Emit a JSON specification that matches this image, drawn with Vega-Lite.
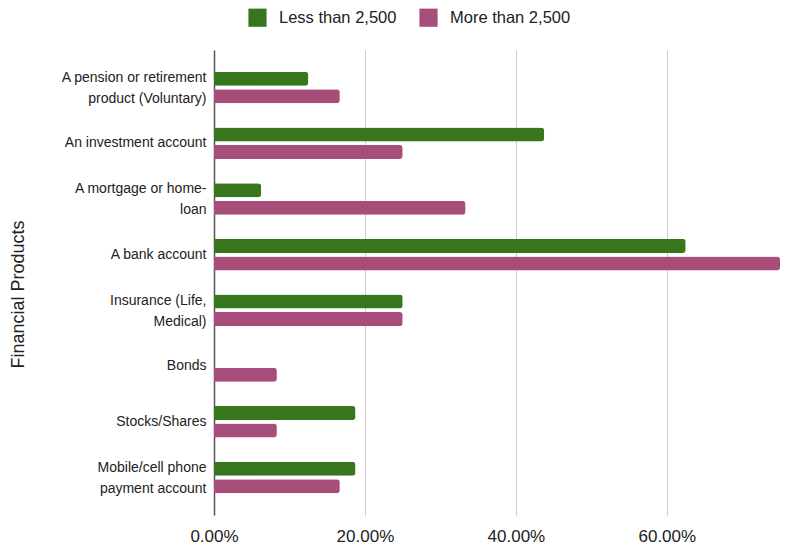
{
  "$schema": "https://vega.github.io/schema/vega-lite/v6.json",
  "autosize": {"type": "none"},
  "padding": {"left": 214, "top": 50, "right": 27, "bottom": 35},
  "width": 566,
  "height": 465,
  "background": "white",
  "config": {
    "font": "Liberation Sans",
    "view": {"stroke": null}
  },
  "data": {
    "values": [
      {"product": "A pension or retirement product (Voluntary)", "group": "Less than 2,500", "value": 0.125},
      {"product": "A pension or retirement product (Voluntary)", "group": "More than 2,500", "value": 0.1667},
      {"product": "An investment account", "group": "Less than 2,500", "value": 0.4375},
      {"product": "An investment account", "group": "More than 2,500", "value": 0.25},
      {"product": "A mortgage or home-loan", "group": "Less than 2,500", "value": 0.0625},
      {"product": "A mortgage or home-loan", "group": "More than 2,500", "value": 0.3333},
      {"product": "A bank account", "group": "Less than 2,500", "value": 0.625},
      {"product": "A bank account", "group": "More than 2,500", "value": 0.75},
      {"product": "Insurance (Life, Medical)", "group": "Less than 2,500", "value": 0.25},
      {"product": "Insurance (Life, Medical)", "group": "More than 2,500", "value": 0.25},
      {"product": "Bonds", "group": "Less than 2,500", "value": 0},
      {"product": "Bonds", "group": "More than 2,500", "value": 0.0833},
      {"product": "Stocks/Shares", "group": "Less than 2,500", "value": 0.1875},
      {"product": "Stocks/Shares", "group": "More than 2,500", "value": 0.0833},
      {"product": "Mobile/cell phone payment account", "group": "Less than 2,500", "value": 0.1875},
      {"product": "Mobile/cell phone payment account", "group": "More than 2,500", "value": 0.1667}
    ]
  },
  "mark": {"type": "bar", "cornerRadiusEnd": 3},
  "encoding": {
    "y": {
      "field": "product",
      "type": "nominal",
      "sort": [
        "A pension or retirement product (Voluntary)",
        "An investment account",
        "A mortgage or home-loan",
        "A bank account",
        "Insurance (Life, Medical)",
        "Bonds",
        "Stocks/Shares",
        "Mobile/cell phone payment account"
      ],
      "scale": {"paddingInner": 0.433, "paddingOuter": 0.39},
      "axis": {
        "title": "Financial Products",
        "titleFont": "Liberation Sans",
        "titleFontSize": 18,
        "titleFontWeight": "normal",
        "titleColor": "#222222",
        "titleX": -196,
        "titleY": 244,
        "titleAngle": -90,
        "titleBaseline": "middle",
        "titleAlign": "center",
        "labelFont": "Liberation Sans",
        "labelFontSize": 14,
        "labelColor": "#222222",
        "labelPadding": 8,
        "labelLineHeight": 21,
        "labelLimit": 300,
        "labelOffset": {
          "condition": {
            "test": "indexof(['A pension or retirement product (Voluntary)', 'A mortgage or home-loan', 'Insurance (Life, Medical)', 'Mobile/cell phone payment account'], datum.value) >= 0",
            "value": -9.5
          },
          "value": 0
        },
        "ticks": false,
        "domainColor": "#555555",
        "domainWidth": 1.5,
        "grid": false,
        "labelExpr": "datum.value == 'A pension or retirement product (Voluntary)' ? ['A pension or retirement', 'product (Voluntary)'] : datum.value == 'A mortgage or home-loan' ? ['A mortgage or home-', 'loan'] : datum.value == 'Insurance (Life, Medical)' ? ['Insurance (Life,', 'Medical)'] : datum.value == 'Mobile/cell phone payment account' ? ['Mobile/cell phone', 'payment account'] : datum.value"
      }
    },
    "yOffset": {
      "field": "group",
      "type": "nominal",
      "sort": ["Less than 2,500", "More than 2,500"],
      "scale": {"paddingInner": 0.2, "paddingOuter": 0}
    },
    "x": {
      "field": "value",
      "type": "quantitative",
      "scale": {"domain": [0, 0.75], "nice": false},
      "axis": {
        "title": null,
        "format": ".2%",
        "values": [0, 0.2, 0.4, 0.6],
        "labelFont": "Liberation Sans",
        "labelFontSize": 17,
        "labelFlush": false,
        "labelColor": "#222222",
        "labelPadding": 13,
        "ticks": false,
        "domain": false,
        "gridColor": "#cccccc",
        "gridWidth": 1
      }
    },
    "color": {
      "field": "group",
      "type": "nominal",
      "scale": {"domain": ["Less than 2,500", "More than 2,500"], "range": ["#38761d", "#a64d79"]},
      "legend": {
        "title": null,
        "orient": "none",
        "direction": "horizontal",
        "legendX": 34,
        "legendY": -42,
        "symbolType": "square",
        "symbolSize": 330,
        "symbolStrokeWidth": 0,
        "symbolOpacity": 1,
        "labelFont": "Liberation Sans",
        "labelFontSize": 16.5,
        "labelColor": "#222222",
        "labelOffset": 12,
        "columnPadding": 22
      }
    }
  }
}
